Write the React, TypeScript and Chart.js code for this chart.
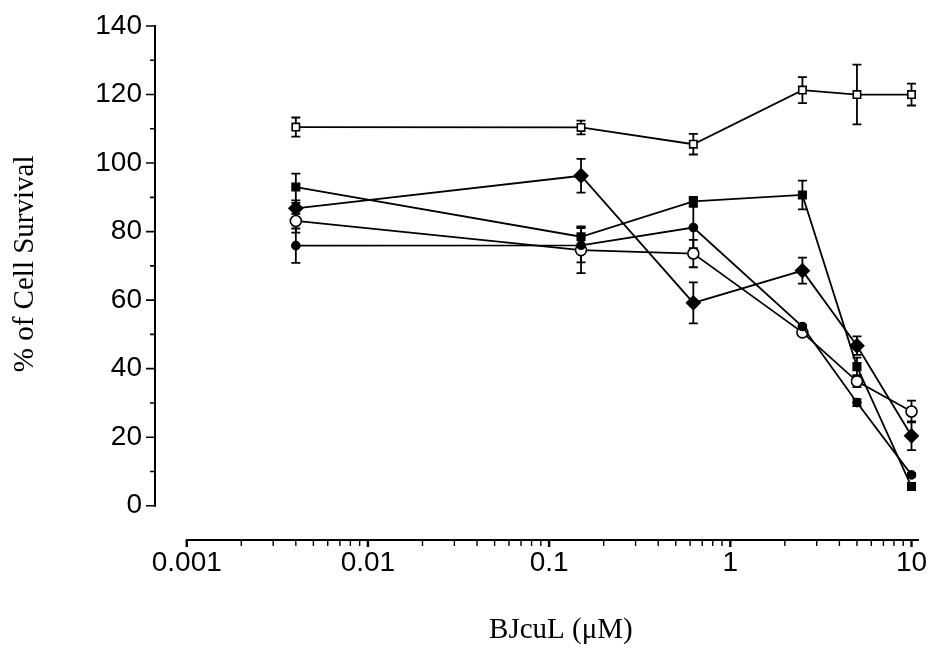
import React, { useEffect, useRef } from "react";
import { Chart, registerables } from "chart.js";

Chart.register(...registerables);

// ---- data ----
const concentrations = [0.004, 0.15, 0.625, 2.5, 5, 10];

const openSquareMean = [110.5, 110.4, 105.5, 121.3, 120, 120];
const openSquareErr = [2.8, 2, 3, 3.8, 8.7, 3.2];

const filledSquareMean = [93, 78.5, 88.8, 90.7, 40.6, 5.6];
const filledSquareErr = [3.9, 3, 1.3, 4.2, 2.6, 0.8];

const diamondMean = [86.8, 96.3, 59.2, 68.6, 46.7, 20.4];
const diamondErr = [1.6, 4.9, 6, 3.8, 2.7, 4.2];

const openCircleMean = [83.1, 74.6, 73.6, 50.6, 36.3, 27.5];
const openCircleErr = [3.4, 6.7, 4, 1, 1.7, 3.2];

const filledCircleMean = [75.9, 76, 81.2, 52.3, 30.1, 9];
const filledCircleErr = [5, 5, 6, 0.5, 1, 0.5];

const xMajorTicks = [0.001, 0.01, 0.1, 1, 10];
const xTickLabels = ["0.001", "0.01", "0.1", "1", "10"];
const yMajorTicks = [0, 20, 40, 60, 80, 100, 120, 140];
const yMinorTicks = [10, 30, 50, 70, 90, 110, 130];

const xTitle = "BJcuL (\u03bcM)";
const yTitle = "% of Cell Survival";

const TICK_FONT = '"Liberation Sans", Arial, sans-serif';
const TITLE_FONT = '"Liberation Serif", "Times New Roman", serif';

function toPoints(means: number[]) {
  return concentrations.map((c, i) => ({ x: c, y: means[i] }));
}

const errorBarPlugin = {
  id: "errorBars",
  beforeDatasetsDraw(chart: any) {
    const { ctx } = chart;
    const xs = chart.scales.x;
    const ys = chart.scales.y;
    const cap = 4.5;
    ctx.save();
    ctx.strokeStyle = "#000";
    ctx.lineWidth = 1.8;
    chart.data.datasets.forEach((ds: any) => {
      const errs: number[] = ds.errors || [];
      ds.data.forEach((p: any, i: number) => {
        const e = errs[i];
        if (!e) return;
        const px = xs.getPixelForValue(p.x);
        const top = ys.getPixelForValue(p.y + e);
        const bot = ys.getPixelForValue(p.y - e);
        ctx.beginPath();
        ctx.moveTo(px, top);
        ctx.lineTo(px, bot);
        ctx.moveTo(px - cap, top);
        ctx.lineTo(px + cap, top);
        ctx.moveTo(px - cap, bot);
        ctx.lineTo(px + cap, bot);
        ctx.stroke();
      });
    });
    ctx.restore();
  },
};

const axesPlugin = {
  id: "prismAxes",
  afterDraw(chart: any) {
    const { ctx, chartArea } = chart;
    const xs = chart.scales.x;
    const ys = chart.scales.y;
    ctx.save();
    ctx.strokeStyle = "#000";
    ctx.fillStyle = "#000";
    // y axis
    const yx = chartArea.left;
    ctx.lineWidth = 2;
    ctx.beginPath();
    ctx.moveTo(yx, ys.getPixelForValue(0) + 1);
    ctx.lineTo(yx, ys.getPixelForValue(140) - 1);
    ctx.stroke();
    ctx.lineWidth = 1.6;
    ctx.beginPath();
    yMajorTicks.forEach((v) => {
      const py = ys.getPixelForValue(v);
      ctx.moveTo(yx - 9, py);
      ctx.lineTo(yx, py);
    });
    yMinorTicks.forEach((v) => {
      const py = ys.getPixelForValue(v);
      ctx.moveTo(yx - 5, py);
      ctx.lineTo(yx, py);
    });
    ctx.stroke();

    // x axis
    const xy = chartArea.bottom;
    ctx.lineWidth = 2.2;
    ctx.beginPath();
    ctx.moveTo(xs.getPixelForValue(xMajorTicks[0]) - 1, xy);
    ctx.lineTo(chartArea.right, xy);
    ctx.stroke();
    ctx.lineWidth = 2.4;
    ctx.beginPath();
    xMajorTicks.forEach((v) => {
      const px = xs.getPixelForValue(v);
      ctx.moveTo(px, xy);
      ctx.lineTo(px, xy + 7);
    });
    ctx.stroke();
    ctx.lineWidth = 1.4;
    ctx.beginPath();
    xMajorTicks.slice(0, -1).forEach((d) => {
      for (let m = 2; m <= 9; m++) {
        const px = xs.getPixelForValue(d * m);
        ctx.moveTo(px, xy);
        ctx.lineTo(px, xy + 6);
      }
    });
    ctx.stroke();

    // titles
    ctx.font = "29px " + TITLE_FONT;
    ctx.textAlign = "center";
    ctx.textBaseline = "middle";
    const xc = (xs.getPixelForValue(xMajorTicks[0]) + chartArea.right) / 2 + 8;
    ctx.fillText(xTitle, xc, xy + 90);
    const yc = (ys.getPixelForValue(0) + ys.getPixelForValue(140)) / 2 - 2;
    ctx.translate(yx - 130, yc);
    ctx.rotate(-Math.PI / 2);
    ctx.fillText(yTitle, 0, 0);
    ctx.restore();
  },
};

function makeDataset(means: number[], errs: number[], style: any) {
  return {
    data: toPoints(means),
    errors: errs,
    borderColor: "#000",
    borderWidth: 1.8,
    tension: 0,
    fill: false,
    pointBorderColor: "#000",
    pointBorderWidth: 1.6,
    ...style,
  };
}

export default function App() {
  const ref = useRef<HTMLCanvasElement | null>(null);

  useEffect(() => {
    document.body.style.margin = "0";
    const canvas = ref.current;
    if (!canvas) return;
    const chart = new Chart(canvas, {
      type: "line",
      data: {
        datasets: [
          makeDataset(openSquareMean, openSquareErr, {
            pointStyle: "rect",
            pointRadius: 5.2,
            pointBackgroundColor: "#fff",
          }),
          makeDataset(filledCircleMean, filledCircleErr, {
            pointStyle: "circle",
            pointRadius: 4,
            pointBackgroundColor: "#000",
          }),
          makeDataset(openCircleMean, openCircleErr, {
            pointStyle: "circle",
            pointRadius: 5.5,
            pointBackgroundColor: "#fff",
          }),
          makeDataset(filledSquareMean, filledSquareErr, {
            pointStyle: "rect",
            pointRadius: 5.3,
            pointBackgroundColor: "#000",
          }),
          makeDataset(diamondMean, diamondErr, {
            pointStyle: "rectRot",
            pointRadius: 6.8,
            pointBackgroundColor: "#000",
          }),
        ] as any,
      },
      options: {
        animation: false,
        responsive: false,
        maintainAspectRatio: false,
        layout: { padding: { top: 26, right: 12, left: 0, bottom: 0 } },
        plugins: {
          legend: { display: false },
          tooltip: { enabled: false },
        },
        scales: {
          x: {
            type: "logarithmic",
            min: 0.000668,
            max: 11,
            grid: { display: false, drawTicks: false },
            border: { display: false },
            ticks: {
              autoSkip: false,
              maxRotation: 0,
              minRotation: 0,
              padding: 6,
              color: "#000",
              font: { family: TICK_FONT, size: 28 },
              callback: (v: any) => {
                const idx = xMajorTicks.findIndex((t) => Math.abs(Math.log10(t) - Math.log10(Number(v))) < 1e-6);
                return idx >= 0 ? xTickLabels[idx] : "";
              },
            },
            afterBuildTicks: (s: any) => {
              s.ticks = xMajorTicks.map((v) => ({ value: v }));
            },
            afterFit: (s: any) => {
              s.height = 121;
              s.paddingLeft = 0;
              s.paddingRight = 0;
            },
          },
          y: {
            type: "linear",
            min: -10,
            max: 140,
            grid: { display: false, drawTicks: false },
            border: { display: false },
            ticks: {
              padding: 13,
              color: "#000",
              font: { family: TICK_FONT, size: 28 },
              callback: (v: any) => String(v),
            },
            afterBuildTicks: (s: any) => {
              s.ticks = yMajorTicks.map((v) => ({ value: v }));
            },
            afterFit: (s: any) => {
              s.width = 155;
              s.paddingTop = 0;
              s.paddingBottom = 0;
            },
          },
        },
      } as any,
      plugins: [errorBarPlugin, axesPlugin],
    });
    return () => chart.destroy();
  }, []);

  return (
    <div style={{ width: 931, height: 661, background: "#fff" }}>
      <canvas ref={ref} width={931} height={661} style={{ display: "block" }} />
    </div>
  );
}
